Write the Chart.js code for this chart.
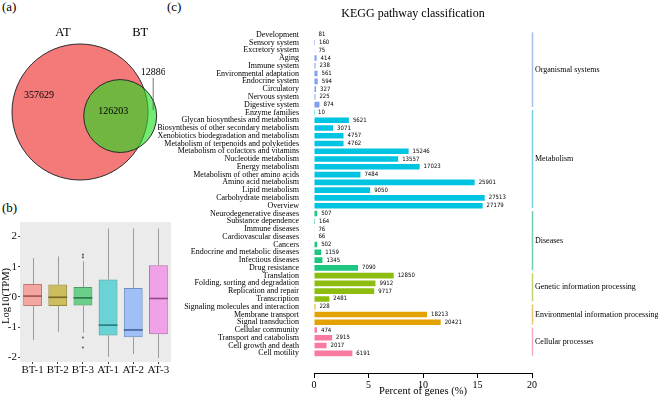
<!DOCTYPE html>
<html><head><meta charset="utf-8">
<script src="https://cdn.jsdelivr.net/npm/chart.js@4.4.1/dist/chart.umd.min.js"></script>
<style>
html,body{margin:0;padding:0;background:#fff;width:658px;height:399px;overflow:hidden;position:relative;}
canvas{position:absolute;display:block;}
.pl{position:absolute;font-family:'Liberation Serif','Times New Roman',serif;font-size:13px;color:#000;line-height:13px;}
</style></head><body>
<div class="pl" style="left:2px;top:0px">(a)</div>
<div class="pl" style="left:2px;top:201px">(b)</div>
<div class="pl" style="left:167px;top:0px">(c)</div>
<canvas id="venn" width="165" height="195" style="left:0;top:0"></canvas>
<canvas id="box" width="175" height="199" style="left:0;top:200px"></canvas>
<canvas id="kegg" width="500" height="399" style="left:158px;top:0"></canvas>
<script>
// ---------------- (a) Venn data ----------------
const vennSets = ['AT', 'BT'];
const vennOnlyCounts = [357629, 12886];
const vennSharedCount = 126203;

// ---------------- (b) Boxplot data (log10 TPM) ----------------
const boxLabels = ['BT-1', 'BT-2', 'BT-3', 'AT-1', 'AT-2', 'AT-3'];
const boxWhiskerLow = [-1.42, -1.15, -1.18, -1.98, -1.89, -2.02];
const boxQ1 = [-0.30, -0.30, -0.28, -1.27, -1.33, -1.23];
const boxMedian = [0.03, -0.01, -0.03, -0.93, -1.09, -0.05];
const boxQ3 = [0.43, 0.41, 0.33, 0.58, 0.30, 1.05];
const boxWhiskerHigh = [1.29, 1.34, 1.18, 2.27, 2.27, 2.27];
const boxOutlierGroup = ['BT-3', 'BT-3', 'BT-3', 'BT-3'];
const boxOutlierValue = [1.40, 1.31, -1.34, -1.67];
const boxTicks = [-2, -1, 0, 1, 2];

// ---------------- (c) KEGG data ----------------
const keggCategories = [
  'Development', 'Sensory system', 'Excretory system', 'Aging', 'Immune system',
  'Environmental adaptation', 'Endocrine system', 'Circulatory', 'Nervous system', 'Digestive system',
  'Enzyme families', 'Glycan biosynthesis and metabolism', 'Biosynthesis of other secondary metabolism',
  'Xenobiotics biodegradation and metabolism', 'Metabolism of terpenoids and polyketides',
  'Metabolism of cofactors and vitamins', 'Nucleotide metabolism', 'Energy metabolism',
  'Metabolism of other amino acids', 'Amino acid metabolism', 'Lipid metabolism',
  'Carbohydrate metabolism', 'Overview',
  'Neurodegenerative diseases', 'Substance dependence', 'Immune diseases', 'Cardiovascular diseases',
  'Cancers', 'Endocrine and metabolic diseases', 'Infectious diseases', 'Drug resistance',
  'Translation', 'Folding, sorting and degradation', 'Replication and repair', 'Transcription',
  'Signaling molecules and interaction', 'Membrane transport', 'Signal transduction',
  'Cellular community', 'Transport and catabolism', 'Cell growth and death', 'Cell motility'
];
const keggCounts = [
  81, 160, 75, 414, 238, 561, 594, 327, 225, 874,
  10, 5621, 3071, 4757, 4762, 15246, 13557, 17023, 7484, 25901, 9050, 27513, 27179,
  507, 164, 76, 66, 502, 1159, 1345, 7090,
  12850, 9912, 9717, 2481,
  228, 18213, 20421,
  474, 2915, 2017, 6191
];
const keggPercent = [
  0.05, 0.09, 0.04, 0.24, 0.14, 0.32, 0.34, 0.19, 0.13, 0.50,
  0.01, 3.20, 1.75, 2.71, 2.71, 8.68, 7.72, 9.69, 4.26, 14.74, 5.15, 15.66, 15.47,
  0.29, 0.09, 0.04, 0.04, 0.29, 0.66, 0.77, 4.04,
  7.31, 5.64, 5.53, 1.41,
  0.13, 10.37, 11.62,
  0.27, 1.66, 1.15, 3.52
];
const keggGroups = ['Organismal systems', 'Metabolism', 'Diseases', 'Genetic information processing',
  'Environmental information processing', 'Cellular processes'];
const keggGroupSizes = [10, 13, 8, 4, 3, 4];
const keggTicks = [0, 5, 10, 15, 20];

// ---------------- styles ----------------
const SERIF = "'Liberation Serif','Times New Roman',serif";
const NARROW = "'Liberation Sans Narrow','DejaVu Sans Condensed','Liberation Sans',sans-serif";
const groupBarColors = ['#7f9ff0', '#00c4e2', '#1ec77f', '#8ebd0f', '#e3a202', '#f97aa0'];
const groupLineColors = ['#a9bde9', '#74d3e3', '#74cfa9', '#c7cf70', '#e5c56e', '#f2aac6'];
const boxFill = ['rgba(248,118,109,0.6)', 'rgba(183,159,0,0.6)', 'rgba(0,186,56,0.55)',
  'rgba(0,191,196,0.55)', 'rgba(97,156,255,0.55)', 'rgba(245,100,227,0.55)'];
const boxEdge = ['#c07a74', '#9a8a3e', '#4c9a62', '#45a0a2', '#6f8fc4', '#b874b0'];
const boxMid = ['#9a5650', '#746628', '#2e7444', '#2a7a7c', '#44609a', '#8c4c86'];

// ---------------- (a) Venn ----------------
(function () {
  const layout = { cx: 80, cy: 112, R: 68, tilt: 0.1 };
  const totalA = vennOnlyCounts[0] + vennSharedCount;
  const totalB = vennOnlyCounts[1] + vennSharedCount;
  const R = layout.R;
  const k = Math.PI * R * R / totalA;
  const r = Math.sqrt(k * totalB / Math.PI);
  const target = k * vennSharedCount;
  function lens(d) {
    if (d >= R + r) return 0;
    if (d <= R - r) return Math.PI * r * r;
    const a1 = Math.acos((d * d + r * r - R * R) / (2 * d * r));
    const a2 = Math.acos((d * d + R * R - r * r) / (2 * d * R));
    return r * r * a1 + R * R * a2 - 0.5 * Math.sqrt((-d + r + R) * (d + r - R) * (d - r + R) * (d + r + R));
  }
  let lo = R - r, hi = R + r;
  for (let i = 0; i < 60; i++) { const m = (lo + hi) / 2; if (lens(m) > target) lo = m; else hi = m; }
  const d = (lo + hi) / 2;
  const A = { x: layout.cx, y: layout.cy, r: R };
  const B = { x: layout.cx + d * Math.cos(layout.tilt), y: layout.cy + d * Math.sin(layout.tilt), r: r };

  const vennText = {
    id: 'vennText',
    afterDatasetsDraw(chart) {
      const { ctx, scales: { x, y } } = chart;
      ctx.save();
      ctx.fillStyle = '#000';
      ctx.textAlign = 'center';
      ctx.textBaseline = 'middle';
      ctx.font = '12.5px ' + SERIF;
      ctx.fillText(vennSets[0], x.getPixelForValue(A.x - 17), y.getPixelForValue(A.y - A.r - 11));
      ctx.fillText(vennSets[1], x.getPixelForValue(B.x + 20), y.getPixelForValue(A.y - A.r - 11));
      ctx.font = '10px ' + SERIF;
      ctx.fillText(String(vennOnlyCounts[0]), x.getPixelForValue(A.x - 41), y.getPixelForValue(A.y - 17));
      ctx.fillText(String(vennSharedCount), x.getPixelForValue(B.x - 7), y.getPixelForValue(B.y - 5));
      ctx.fillText(String(vennOnlyCounts[1]), x.getPixelForValue(B.x + 33), y.getPixelForValue(B.y - 44));
      ctx.strokeStyle = '#555';
      ctx.lineWidth = 0.8;
      ctx.beginPath();
      ctx.moveTo(x.getPixelForValue(B.x + 33), y.getPixelForValue(B.y - 38));
      ctx.lineTo(x.getPixelForValue(B.x + 33), y.getPixelForValue(B.y - 6));
      ctx.stroke();
      ctx.restore();
    }
  };

  new Chart(document.getElementById('venn'), {
    type: 'bubble',
    data: {
      datasets: [{
        data: [A, B],
        backgroundColor: ['#f47a7a', 'rgba(30,220,30,0.62)'],
        borderColor: '#2a2a2a',
        borderWidth: 1,
        hoverBorderWidth: 1,
        clip: false
      }]
    },
    options: {
      responsive: false, animation: false, events: [],
      layout: { padding: 0, autoPadding: false },
      plugins: { legend: { display: false }, tooltip: { enabled: false } },
      scales: {
        x: { type: 'linear', min: 0, max: 165, display: false },
        y: { type: 'linear', min: 0, max: 195, reverse: true, display: false }
      }
    },
    plugins: [vennText]
  });
})();

// ---------------- (b) Boxplot ----------------
(function () {
  const boxPlugin = {
    id: 'boxParts',
    beforeDraw(chart) {
      const { ctx, chartArea: a } = chart;
      ctx.save();
      ctx.fillStyle = '#ebebeb';
      ctx.fillRect(a.left, a.top, a.right - a.left, a.bottom - a.top);
      ctx.restore();
    },
    beforeDatasetsDraw(chart) {
      const { ctx, scales: { x, y } } = chart;
      ctx.save();
      ctx.strokeStyle = '#9a9a9a';
      ctx.lineWidth = 1;
      boxLabels.forEach((lab, i) => {
        const px = Math.round(x.getPixelForValue(i)) + 0.5;
        ctx.beginPath();
        ctx.moveTo(px, y.getPixelForValue(boxQ3[i]));
        ctx.lineTo(px, y.getPixelForValue(boxWhiskerHigh[i]));
        ctx.moveTo(px, y.getPixelForValue(boxQ1[i]));
        ctx.lineTo(px, y.getPixelForValue(boxWhiskerLow[i]));
        ctx.stroke();
      });
      ctx.restore();
    },
    afterDatasetsDraw(chart) {
      const { ctx, scales: { x, y } } = chart;
      const meta = chart.getDatasetMeta(0);
      ctx.save();
      ctx.lineWidth = 1.6;
      boxLabels.forEach((lab, i) => {
        const bar = meta.data[i];
        const py = y.getPixelForValue(boxMedian[i]);
        ctx.strokeStyle = boxMid[i];
        ctx.beginPath();
        ctx.moveTo(bar.x - bar.width / 2, py);
        ctx.lineTo(bar.x + bar.width / 2, py);
        ctx.stroke();
      });
      // y-axis title
      const a = chart.chartArea;
      ctx.fillStyle = '#000';
      ctx.font = '10.5px ' + SERIF;
      ctx.textAlign = 'center';
      ctx.textBaseline = 'middle';
      ctx.translate(6, (a.top + a.bottom) / 2 + 4);
      ctx.rotate(-Math.PI / 2);
      ctx.fillText('Log10(TPM)', 0, 0);
      ctx.restore();
    }
  };

  new Chart(document.getElementById('box'), {
    type: 'bar',
    data: {
      labels: boxLabels,
      datasets: [{
        data: boxLabels.map((_, i) => [boxQ1[i], boxQ3[i]]),
        backgroundColor: boxFill,
        borderColor: boxEdge,
        borderWidth: 1,
        borderSkipped: false,
        categoryPercentage: 1,
        barPercentage: 0.75,
        order: 1
      }, {
        type: 'scatter',
        data: boxOutlierGroup.map((g, i) => ({ x: g, y: boxOutlierValue[i] })),
        pointRadius: 1.1,
        pointBackgroundColor: '#666',
        pointBorderWidth: 0,
        order: 0
      }]
    },
    options: {
      responsive: false, animation: false, events: [],
      layout: { padding: { top: 22, right: 3, left: 0, bottom: 0 } },
      plugins: { legend: { display: false }, tooltip: { enabled: false } },
      scales: {
        x: {
          type: 'category',
          afterFit(s) { s.height = 37; },
          grid: { display: true, drawOnChartArea: false, offset: false, tickLength: 2, tickColor: '#444' },
          border: { display: false },
          ticks: { font: { family: SERIF, size: 11 }, color: '#111', padding: 0, maxRotation: 0, autoSkip: false }
        },
        y: {
          type: 'linear', min: -2.15, max: 2.48,
          afterFit(s) { s.width = 20; },
          afterBuildTicks(s) { s.ticks = boxTicks.map(v => ({ value: v })); },
          grid: { display: true, drawOnChartArea: false, tickLength: 2, tickColor: '#444' },
          border: { display: false },
          ticks: { font: { family: SERIF, size: 11 }, color: '#111', padding: 1 }
        }
      }
    },
    plugins: [boxPlugin]
  });
})();

// ---------------- (c) KEGG ----------------
(function () {
  const groupOf = [];
  keggGroupSizes.forEach((n, g) => { for (let j = 0; j < n; j++) groupOf.push(g); });
  const barColors = groupOf.map(g => groupBarColors[g]);

  const keggPlugin = {
    id: 'keggExtras',
    afterDatasetsDraw(chart) {
      const { ctx, chartArea: a, scales: { y } } = chart;
      const meta = chart.getDatasetMeta(0);
      ctx.save();
      // value labels
      ctx.fillStyle = '#000';
      ctx.textAlign = 'left';
      ctx.textBaseline = 'middle';
      ctx.font = '6px ' + NARROW;
      meta.data.forEach((bar, i) => {
        ctx.fillText(String(keggCounts[i]), bar.x + 4, bar.y);
      });
      // group brackets and labels
      let start = 0;
      keggGroups.forEach((name, g) => {
        const end = start + keggGroupSizes[g] - 1;
        const y1 = y.getPixelForValue(start - 0.5) + 1.5;
        const y2 = y.getPixelForValue(end + 0.5) - 1.5;
        ctx.strokeStyle = groupLineColors[g];
        ctx.lineWidth = 1.5;
        ctx.beginPath();
        ctx.moveTo(a.right + 0.5, y1);
        ctx.lineTo(a.right + 0.5, y2);
        ctx.stroke();
        ctx.fillStyle = '#000';
        ctx.font = '8px ' + SERIF;
        ctx.fillText(name, a.right + 3, (y1 + y2) / 2);
        start = end + 1;
      });
      // title
      ctx.font = '12px ' + SERIF;
      ctx.textAlign = 'center';
      ctx.fillText('KEGG pathway classification', chart.width / 2 + 5, 14);
      ctx.restore();
    }
  };

  new Chart(document.getElementById('kegg'), {
    type: 'bar',
    data: {
      datasets: [{
        data: keggPercent.map((v, i) => ({ x: v, y: i })),
        backgroundColor: barColors,
        borderWidth: 0,
        categoryPercentage: 1,
        barPercentage: 0.72
      }]
    },
    options: {
      indexAxis: 'y',
      responsive: false, animation: false, events: [],
      layout: { padding: { top: 26.7, right: 126, left: 0, bottom: 0 } },
      plugins: { legend: { display: false }, tooltip: { enabled: false } },
      scales: {
        y: {
          type: 'linear', reverse: true, min: -0.5, max: 43,
          afterFit(s) { s.width = 156; },
          afterBuildTicks(s) { s.ticks = keggCategories.map((_, i) => ({ value: i })); },
          grid: { display: false },
          border: { display: false },
          ticks: {
            autoSkip: false, padding: 7, color: '#000',
            font: { family: SERIF, size: 8 },
            callback: v => keggCategories[v]
          }
        },
        x: {
          type: 'linear', min: 0, max: 20,
          afterFit(s) { s.height = 26; },
          afterBuildTicks(s) { s.ticks = keggTicks.map(v => ({ value: v })); },
          grid: { display: true, drawOnChartArea: false, tickLength: 5, tickColor: '#000' },
          border: { display: true, color: '#000', width: 1 },
          ticks: { font: { family: SERIF, size: 10 }, color: '#000', padding: 1, maxRotation: 0 },
          title: { display: true, text: 'Percent of genes (%)', color: '#000',
            font: { family: SERIF, size: 10.5 }, padding: { top: 0, bottom: 1 } }
        }
      }
    },
    plugins: [keggPlugin]
  });
})();
</script>
</body></html>
